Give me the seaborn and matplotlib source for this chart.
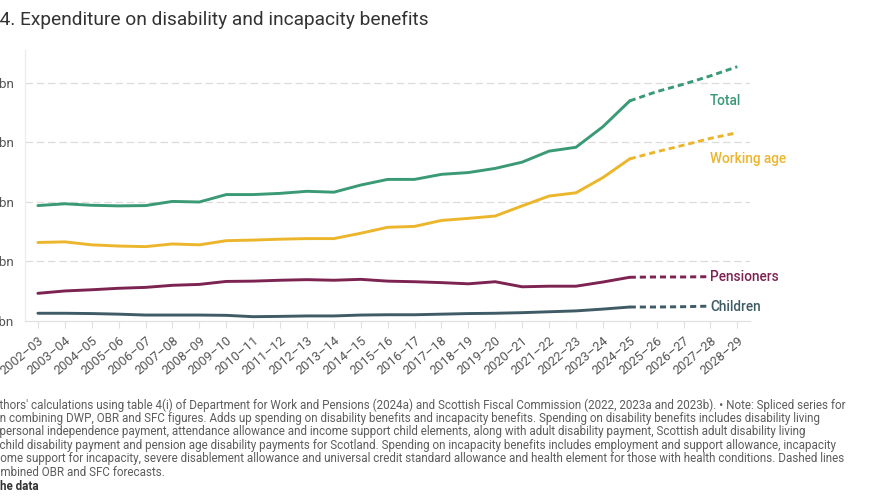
import numpy as np
import pandas as pd
import matplotlib
matplotlib.use("Agg")
import matplotlib.pyplot as plt
import seaborn as sns

years = ["2002–03", "2003–04", "2004–05", "2005–06", "2006–07", "2007–08", "2008–09",
         "2009–10", "2010–11", "2011–12", "2012–13", "2013–14", "2014–15", "2015–16",
         "2016–17", "2017–18", "2018–19", "2019–20", "2020–21", "2021–22", "2022–23",
         "2023–24", "2024–25", "2025–26", "2026–27", "2027–28", "2028–29"]

total = [38.7, 39.3, 38.8, 38.6, 38.7, 40.1, 39.9, 42.4, 42.4, 42.8, 43.5, 43.2, 45.6,
         47.5, 47.5, 49.2, 49.8, 51.2, 53.3, 57.0, 58.3, 65.2, 73.9, 77.0, 79.5, 82.3, 85.4]
working_age = [26.3, 26.5, 25.5, 25.1, 24.9, 25.8, 25.5, 26.9, 27.1, 27.4, 27.6, 27.6, 29.4,
               31.4, 31.7, 33.7, 34.4, 35.2, 38.6, 41.9, 43.0, 48.1, 54.4, 56.8, 59.0, 61.3, 63.2]
pensioners = [9.2, 10.0, 10.4, 10.9, 11.2, 11.9, 12.2, 13.2, 13.3, 13.6, 13.8, 13.6, 13.9,
              13.3, 13.1, 12.8, 12.4, 13.1, 11.4, 11.6, 11.6, 13.0, 14.6, 14.7, 14.7, 14.8, 14.8]
children = [2.5, 2.5, 2.4, 2.2, 1.9, 1.9, 1.9, 1.8, 1.35, 1.45, 1.6, 1.6, 1.9, 2.0, 2.0,
            2.2, 2.4, 2.5, 2.7, 3.0, 3.3, 3.9, 4.6, 4.6, 4.7, 4.9, 5.0]

series_names = ["Total", "Working age", "Pensioners", "Children"]
series_values = [total, working_age, pensioners, children]
colors = {"Total": "#3a9a76", "Working age": "#ecb62c",
          "Pensioners": "#7c2352", "Children": "#3f5b66"}
label_y = {"Total": 73.9, "Working age": 54.4, "Pensioners": 14.7, "Children": 4.6}
forecast_start = "2024–25"

y_ticks = [0, 20, 40, 60, 80]
y_ticklabels = ["£0bn", "£20bn", "£40bn", "£60bn", "£80bn"]

title_prefix = "Figure "
title_rest = "4. Expenditure on disability and incapacity benefits"
notes = [
    ("Source: Au", "thors' calculations using table 4(i) of Department for Work and Pensions (2024a) and Scottish Fiscal Commission (2022, 2023a and 2023b). • Note: Spliced series for"),
    ("2024–25 whe", "n combining DWP, OBR and SFC figures. Adds up spending on disability benefits and incapacity benefits. Spending on disability benefits includes disability living"),
    ("allowance, ", "personal independence payment, attendance allowance and income support child elements, along with adult disability payment, Scottish adult disability living"),
    ("allowance, ", "child disability payment and pension age disability payments for Scotland. Spending on incapacity benefits includes employment and support allowance, incapacity"),
    ("benefit, inc", "ome support for incapacity, severe disablement allowance and universal credit standard allowance and health element for those with health conditions. Dashed lines"),
    ("reflect co", "mbined OBR and SFC forecasts."),
]
data_link = ("Get t", "he data")

# ---- data frame ----
rows = []
fi = years.index(forecast_start)
for name, vals in zip(series_names, series_values):
    for i, (yr, v) in enumerate(zip(years, vals)):
        if i <= fi:
            rows.append(dict(series=name, idx=i, year=yr, value=v, phase="actual"))
        if i >= fi:
            rows.append(dict(series=name, idx=i, year=yr, value=v, phase="forecast"))
df = pd.DataFrame(rows)

sns.set_theme(style="white")
plt.rcParams["font.family"] = ["Roboto", "DejaVu Sans"]

W, H = 869, 504
fig = plt.figure(figsize=(W / 100, H / 100), dpi=100)
x_left, x_right, y_top, y_bot = 25, 750, 50, 320.7
ax = fig.add_axes([x_left / W, (H - y_bot) / H, (x_right - x_left) / W, (y_bot - y_top) / H])

for name in series_names:
    sub = df[df.series == name]
    sns.lineplot(data=sub[sub.phase == "actual"], x="idx", y="value", color=colors[name],
                 linewidth=2.1, ax=ax, legend=False, estimator=None)
    sns.lineplot(data=sub[sub.phase == "forecast"], x="idx", y="value", color=colors[name],
                 linewidth=2.1, linestyle=(0, (2.1, 1.35)), ax=ax, legend=False, estimator=None)

ax.set_xlim(-0.48, len(years) - 0.53)
ax.set_ylim(0, 91)
ax.set_xlabel("")
ax.set_ylabel("")

ax.set_yticks(y_ticks)
ax.set_yticklabels(y_ticklabels, fontsize=9.7, color="#555555")
ax.set_xticks(range(len(years)))
ax.set_xticklabels(years, rotation=40, ha="right", va="top", rotation_mode="anchor",
                   fontsize=9.3, color="#555555")
ax.tick_params(axis="y", length=0, pad=8)
ax.tick_params(axis="x", length=5, width=0.8, color="#e0e0e0", pad=4.5, direction="out")
ax.xaxis.set_ticks_position("bottom")

for yv in y_ticks[1:]:
    ax.axhline(yv, color="#dcdcdc", linewidth=0.9, linestyle=(0, (6, 3)), zorder=0)
for s in ["top", "right"]:
    ax.spines[s].set_visible(False)
ax.spines["left"].set_color("#ececec")
ax.spines["left"].set_linewidth(0.9)
ax.spines["bottom"].set_color("#e0e0e0")
ax.spines["bottom"].set_linewidth(0.9)
ax.grid(False)

for name in series_names:
    ax.text(24.98, label_y[name], name, color=colors[name], fontsize=9.8,
            fontweight="medium", va="center", ha="left",
            bbox=dict(facecolor="white", edgecolor="none", pad=0.6), zorder=5)

# ---- text with clipped prefixes (reference is cropped at left) ----
renderer = fig.canvas.get_renderer()


def clipped_text(prefix, rest, y_px, **kw):
    t = fig.text(0, 0, prefix + "|", **kw)
    w_bar = t.get_window_extent(renderer=renderer).width
    t.set_text("|")
    w = w_bar - t.get_window_extent(renderer=renderer).width
    t.remove()
    fig.text(-w / W, 1 - y_px / H, prefix + rest, va="center", ha="left", **kw)


clipped_text(title_prefix, title_rest, 20, fontsize=13.8, color="#333333")
for k, (p, r) in enumerate(notes):
    clipped_text(p, r, 405 + k * 13.4, fontsize=8.4, color="#5c5c5c")
clipped_text(data_link[0], data_link[1], 405 + 6 * 13.6, fontsize=8.4, color="#333333",
             fontweight="bold")

fig.savefig("out.png", dpi=100)
